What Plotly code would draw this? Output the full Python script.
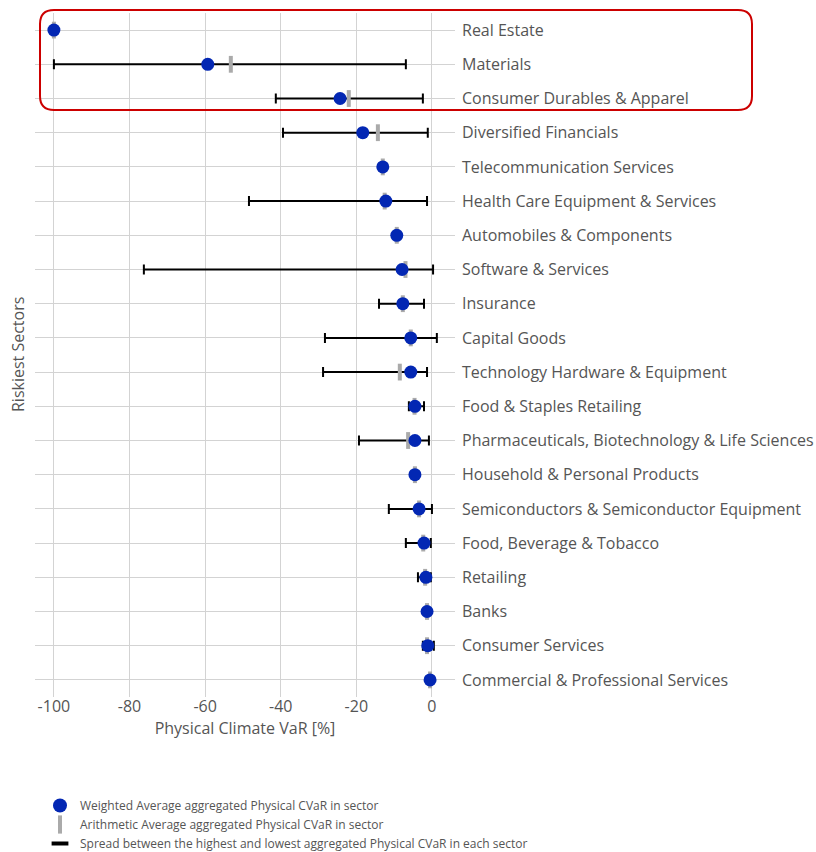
import plotly.graph_objects as go

# Sectors, top (riskiest) to bottom
sectors = [
    "Real Estate", "Materials", "Consumer Durables & Apparel", "Diversified Financials",
    "Telecommunication Services", "Health Care Equipment & Services", "Automobiles & Components",
    "Software & Services", "Insurance", "Capital Goods", "Technology Hardware & Equipment",
    "Food & Staples Retailing", "Pharmaceuticals, Biotechnology & Life Sciences",
    "Household & Personal Products", "Semiconductors & Semiconductor Equipment",
    "Food, Beverage & Tobacco", "Retailing", "Banks", "Consumer Services",
    "Commercial & Professional Services",
]

# Weighted average aggregated Physical CVaR
weighted_avg = [-100, -59.3, -24.3, -18.3, -13.0, -12.2, -9.3, -7.9, -7.7, -5.6,
                -5.6, -4.5, -4.5, -4.5, -3.4, -2.1, -1.6, -1.3, -1.1, -0.5]
# Arithmetic average aggregated Physical CVaR
arith_avg = [-100, -53.2, -22.0, -14.3, -13.0, -12.5, -9.3, -7.0, -7.7, -5.6,
             -8.5, -4.6, -6.3, -4.5, -3.4, -2.3, -1.8, -1.3, -1.3, -0.5]
# Spread (lowest / highest), None where no spread is drawn
spread_low = [None, -100, -41.3, -39.4, None, -48.4, None, -76.2, -14.0, -28.3,
              -28.8, -6.1, -19.3, None, -11.4, -6.9, -3.7, None, -2.4, None]
spread_high = [None, -6.9, -2.4, -1.1, None, -1.3, None, 0.3, -2.1, 1.3,
               -1.3, -2.1, -0.8, None, 0.0, -0.3, -0.3, None, 0.5, None]

x_ticks = [-100, -80, -60, -40, -20, 0]
x_ticklabels = ["-100", "-80", "-60", "-40", "-20", "0"]

BLUE = "#0327b3"
GRAY = "#aaaaaa"
TXT = "#555555"

# Only rows with a spread get an error bar
err_y, err_x, err_plus, err_minus = [], [], [], []
for s, w, lo, hi in zip(sectors, weighted_avg, spread_low, spread_high):
    if lo is None:
        continue
    err_y.append(s)
    err_x.append(w)
    err_plus.append(hi - w)
    err_minus.append(w - lo)

fig = go.Figure()

fig.add_trace(go.Scatter(
    x=err_x, y=err_y, mode="markers",
    marker=dict(size=1, opacity=0),
    error_x=dict(type="data", symmetric=False, array=err_plus, arrayminus=err_minus,
                 color="black", thickness=2, width=5),
    showlegend=False, hoverinfo="skip",
))
fig.add_trace(go.Scatter(
    x=arith_avg, y=sectors, mode="markers",
    marker=dict(symbol="line-ns", size=12, line=dict(color=GRAY, width=4)),
    showlegend=False,
))
fig.add_trace(go.Scatter(
    x=weighted_avg, y=sectors, mode="markers",
    marker=dict(symbol="circle", size=13, color=BLUE),
    showlegend=False,
))

# legend-only entries
fig.add_trace(go.Scatter(
    x=[None], y=[None], mode="markers",
    name="Weighted Average aggregated Physical CVaR in sector",
    marker=dict(symbol="circle", size=14, color=BLUE),
))
fig.add_trace(go.Scatter(
    x=[None], y=[None], mode="markers",
    name="Arithmetic Average aggregated Physical CVaR in sector",
    marker=dict(symbol="line-ns", size=13, line=dict(color=GRAY, width=4)),
))
fig.add_trace(go.Scatter(
    x=[None], y=[None], mode="markers",
    name="Spread between the highest and lowest aggregated Physical CVaR in each sector",
    marker=dict(symbol="line-ew", size=12, line=dict(color="black", width=4)),
))

# plot area in pixels: x 35..455, y 13..697
L, R, T, B = 35, 455, 13, 697
pw, ph = R - L, B - T


def px(x):
    return (x - L) / pw


def py(y):
    return (B - y) / ph


# rounded red box around the top three sectors
x0, x1, y0, y1, r = 40, 752, 10, 110, 14
path = (
    f"M {px(x0 + r)},{py(y0)} L {px(x1 - r)},{py(y0)} "
    f"Q {px(x1)},{py(y0)} {px(x1)},{py(y0 + r)} L {px(x1)},{py(y1 - r)} "
    f"Q {px(x1)},{py(y1)} {px(x1 - r)},{py(y1)} L {px(x0 + r)},{py(y1)} "
    f"Q {px(x0)},{py(y1)} {px(x0)},{py(y1 - r)} L {px(x0)},{py(y0 + r)} "
    f"Q {px(x0)},{py(y0)} {px(x0 + r)},{py(y0)} Z"
)

fig.update_layout(
    width=816, height=852,
    margin=dict(l=L, r=816 - R, t=T, b=852 - B, autoexpand=False),
    plot_bgcolor="white", paper_bgcolor="white",
    font=dict(family="Open Sans", size=16, color=TXT),
    xaxis=dict(
        range=[-105, 6.1], tickvals=x_ticks, ticktext=x_ticklabels,
        showgrid=True, gridcolor="#d3d3d3", gridwidth=1, zeroline=False,
        title=dict(text="Physical Climate VaR [%]", standoff=4, font=dict(size=16, color=TXT)),
        tickfont=dict(size=16, color=TXT), showline=False, ticklabelstandoff=-2,
    ),
    yaxis=dict(
        categoryorder="array", categoryarray=sectors[::-1],
        range=[-0.5, 19.5], side="right",
        showgrid=True, gridcolor="#d3d3d3", gridwidth=1, zeroline=False,
        tickfont=dict(size=16, color=TXT), ticklabelstandoff=6,
    ),
    legend=dict(
        x=px(40), y=py(791), xanchor="left", yanchor="top",
        font=dict(size=12, color=TXT), tracegroupgap=0,
        itemsizing="trace", bgcolor="rgba(0,0,0,0)",
    ),
    shapes=[dict(type="path", path=path, xref="paper", yref="paper",
                 line=dict(color="#cc0000", width=2))],
    annotations=[dict(
        text="Riskiest Sectors", x=px(18), y=0.5, xref="paper", yref="paper",
        xanchor="center", yanchor="middle",
        textangle=-90, showarrow=False, font=dict(size=16, color=TXT),
    )],
)

# drop the browser's default body margin so the figure fills the window
fig.write_html("out.html", config={"displayModeBar": False},
               post_script="document.body.style.margin='0';")
